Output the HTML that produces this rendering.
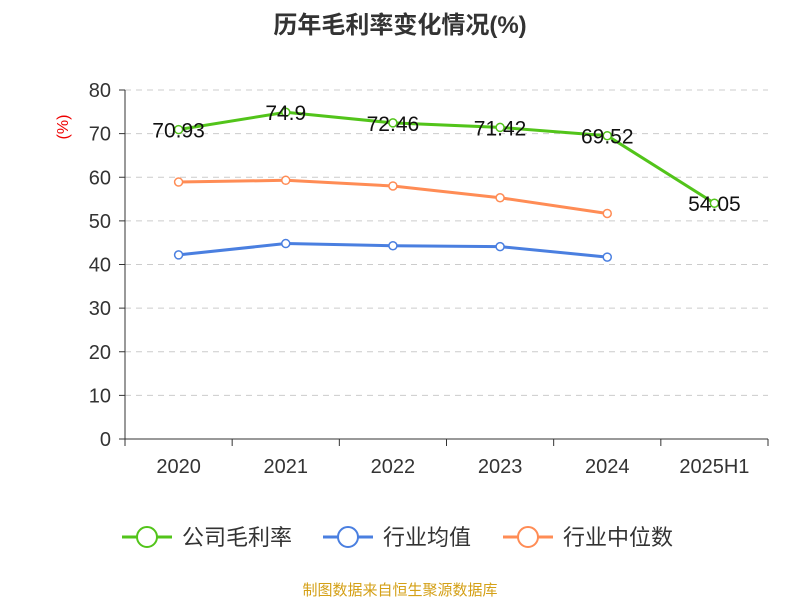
<!DOCTYPE html>
<html><head><meta charset="utf-8"><style>
body{margin:0;background:#fff;font-family:"Liberation Sans","Noto Sans CJK SC",sans-serif}
</style></head><body>
<svg id="c" width="800" height="600" xmlns="http://www.w3.org/2000/svg" font-family="Liberation Sans, Noto Sans CJK SC, sans-serif">
<text x="400" y="33" text-anchor="middle" font-size="24" font-weight="bold" fill="#333">历年毛利率变化情况(%)</text>
<text x="68" y="127" font-size="16" fill="#e00" transform="rotate(-90 68 127)" text-anchor="middle">(%)</text>
<text x="400" y="595" text-anchor="middle" font-size="15" fill="#d4a017">制图数据来自恒生聚源数据库</text>
<g id="grid"></g><g id="axes"></g><g id="series"></g><g id="legend"></g>
</svg>
<script>
const categories=["2020","2021","2022","2023","2024","2025H1"];
const grossMargin=[70.93,74.9,72.46,71.42,69.52,54.05];
const industryAvg=[42.2,44.8,44.3,44.1,41.7];
const industryMedian=[58.9,59.3,58.0,55.3,51.7];
const yTicks=[0,10,20,30,40,50,60,70,80];
const NS="http://www.w3.org/2000/svg";
const X0=125,X1=768,Y0=439,Y1=90;
const bw=(X1-X0)/categories.length;
const xs=i=>X0+bw*(i+0.5);
const ys=v=>Y0-(v/80)*(Y0-Y1);
function mk(tag,attrs,parent){const e=document.createElementNS(NS,tag);for(const k in attrs)e.setAttribute(k,attrs[k]);parent.appendChild(e);return e;}
const grid=document.getElementById('grid'),axes=document.getElementById('axes'),ser=document.getElementById('series'),leg=document.getElementById('legend');
yTicks.forEach(t=>{
 if(t>0){const l=mk('line',{x1:X0,x2:X1,y1:ys(t),y2:ys(t),stroke:'#ccc','stroke-dasharray':'6,5'},grid);
 
 }
 const tk=mk('line',{x1:X0-6,x2:X0,y1:ys(t),y2:ys(t),stroke:'#333'},axes);
 
 
 const tx=mk('text',{x:X0-14,y:ys(t)+7,'text-anchor':'end','font-size':20,fill:'#333'},axes);tx.textContent=t;
 
 
});
const ya=mk('line',{x1:X0,x2:X0,y1:Y1,y2:Y0,stroke:'#333'},axes);


const xa=mk('line',{x1:X0,x2:X1,y1:Y0,y2:Y0,stroke:'#333'},axes);


for(let i=0;i<=categories.length;i++){const t=mk('line',{x1:X0+bw*i,x2:X0+bw*i,y1:Y0,y2:Y0+7,stroke:'#333'},axes);
 
 }
categories.forEach((c,i)=>{const t=mk('text',{x:xs(i),y:473,'text-anchor':'middle','font-size':20,fill:'#333'},axes);t.textContent=c;
 
 });
function series(vals,color,name,labels){
 const p=mk('polyline',{points:vals.map((v,i)=>xs(i)+','+ys(v)).join(' '),fill:'none',stroke:color,'stroke-width':3},ser);
 
 
 vals.forEach((v,i)=>{const c=mk('circle',{cx:xs(i),cy:ys(v),r:4,fill:'#fff',stroke:color,'stroke-width':1.5},ser);
  
  
  if(labels){const t=mk('text',{x:xs(i),y:ys(v)+8,'text-anchor':'middle','font-size':21,fill:'#111'},ser);t.textContent=v;
   
   }
 });
}
series(industryAvg,'#4a7fe0','industry-avg',false);
series(industryMedian,'#ff8c55','industry-median',false);
series(grossMargin,'#52c41a','gross-margin',true);
[["公司毛利率",'#52c41a',122],["行业均值",'#4a7fe0',323],["行业中位数",'#ff8c55',503]].forEach(([n,c,x])=>{
 const g=mk('g',{},leg);
 
 
 mk('line',{x1:x,x2:x+50,y1:537,y2:537,stroke:c,'stroke-width':3},g);
 mk('circle',{cx:x+25,cy:537,r:10,fill:'#fff',stroke:c,'stroke-width':2},g);
 const t=mk('text',{x:x+60,y:545,'font-size':22,fill:'#333'},g);t.textContent=n;
});
</script>
</body></html>
